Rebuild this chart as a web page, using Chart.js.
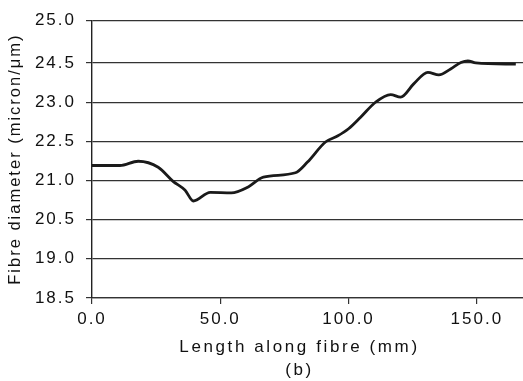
<!DOCTYPE html>
<html>
<head>
<meta charset="utf-8">
<script src="https://cdn.jsdelivr.net/npm/chart.js@4/dist/chart.umd.min.js"></script>
<style>
  html, body { margin: 0; padding: 0; background: #fff; }
  #wrap { width: 523px; height: 381px; }
</style>
</head>
<body>
<div id="wrap"><canvas id="c" width="523" height="381"></canvas></div>
<script>
// length along fibre (mm)
const lengths = [0, 10.9, 18.0, 25.8, 31.6, 36.3, 39.5, 46.1, 54.3, 60.9, 66.8, 79.3, 84.0, 91.0,
                 95.7, 100.0, 104.7, 110.5, 116.4, 120.3, 125.4, 130.9, 135.2, 139.8, 143.8, 146.5, 149.6, 165.2];
// fibre diameter, read against the gridlines
const diameters = [21.60, 21.60, 21.70, 21.56, 21.23, 21.02, 20.77, 20.97, 20.96, 21.10, 21.33, 21.43, 21.68, 22.15,
                   22.29, 22.46, 22.73, 23.08, 23.26, 23.20, 23.51, 23.78, 23.72, 23.86, 24.01, 24.05, 24.00, 23.97];

const xTicks = [0, 50, 100, 150];
const xTickLabels = ['0.0', '50.0', '100.0', '150.0'];
const yTicks = [18.5, 19.42, 20.33, 21.25, 22.17, 23.08, 24.0, 25.0];
const yTickLabels = ['18.5', '19.0', '20.5', '21.0', '22.5', '23.0', '24.5', '25.0'];

const xTitle = ['Length along fibre (mm)', '(b)'];
const yTitle = 'Fibre diameter (micron/\u03bcm)';

const INK = '#111';
const FONT = 'Arial, "Liberation Sans", Helvetica, sans-serif';

// wide tracking like the printed figure
const tracking = {
    id: 'tracking',
    beforeLayout(chart) { chart.ctx.letterSpacing = '2px'; },
    beforeDraw(chart) { chart.ctx.letterSpacing = '2px'; }
};

// x title sits a bit left of the plot centre in the original
const bottomTitle = {
    id: 'bottomTitle',
    afterDraw(chart) {
        const ctx = chart.ctx;
        const a = chart.chartArea;
        ctx.save();
        ctx.letterSpacing = '2.6px';
        ctx.font = '17px ' + FONT;
        ctx.fillStyle = INK;
        ctx.textAlign = 'center';
        ctx.textBaseline = 'middle';
        const cx = (a.left + a.right) / 2 - 8;
        ctx.fillText(xTitle[0], cx, a.bottom + 49);
        ctx.fillText(xTitle[1], cx, a.bottom + 72);
        ctx.restore();
    }
};

new Chart(document.getElementById('c'), {
    type: 'line',
    data: {
        datasets: [{
            data: lengths.map((x, i) => ({ x: x, y: diameters[i] })),
            borderColor: '#1a1a1a',
            borderWidth: 2.8,
            pointRadius: 0,
            fill: false,
            cubicInterpolationMode: 'monotone'
        }]
    },
    options: {
        responsive: false,
        animation: false,
        devicePixelRatio: 1,
        layout: { padding: { top: 19, right: 0, bottom: 0, left: 0 } },
        plugins: { legend: { display: false }, tooltip: { enabled: false } },
        scales: {
            x: {
                type: 'linear',
                min: 0,
                max: 168,
                afterBuildTicks: s => { s.ticks = xTicks.map(v => ({ value: v })); },
                afterFit: s => { s.height = 83; },
                ticks: {
                    color: INK,
                    font: { family: FONT, size: 17 },
                    padding: 5,
                    maxRotation: 0,
                    callback: (v, i) => xTickLabels[i]
                },
                grid: { drawOnChartArea: false, drawTicks: true, tickLength: 6, color: '#333', lineWidth: 1.2 },
                border: { display: true, color: '#333', width: 1.2 }
            },
            y: {
                type: 'linear',
                min: 18.5,
                max: 25.0,
                afterBuildTicks: s => { s.ticks = yTicks.map(v => ({ value: v })); },
                afterFit: s => { s.width = 92; },
                ticks: {
                    color: INK,
                    font: { family: FONT, size: 17 },
                    padding: 10,
                    callback: (v, i) => yTickLabels[i]
                },
                title: {
                    display: true,
                    text: yTitle,
                    color: INK,
                    font: { family: FONT, size: 16.5 },
                    padding: { top: 6, bottom: 0 }
                },
                grid: { drawOnChartArea: true, drawTicks: true, tickLength: 6, color: '#333', lineWidth: 1.2 },
                border: { display: true, color: '#222', width: 1.4 }
            }
        }
    },
    plugins: [tracking, bottomTitle]
});
</script>
</body>
</html>
